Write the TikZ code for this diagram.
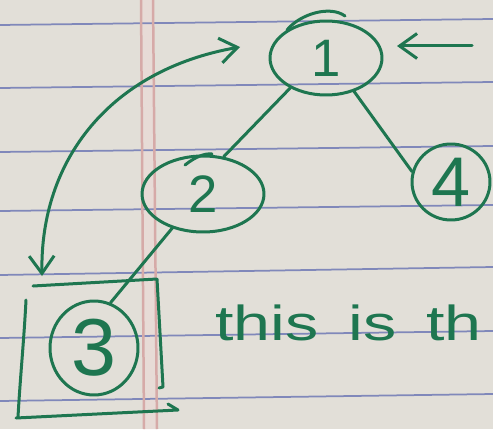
\documentclass[tikz,border=0pt]{standalone}
\usepackage{fontspec}
\setmainfont{Liberation Sans}
\usetikzlibrary{arrows.meta,shapes.geometric}
\definecolor{paper}{RGB}{226,223,216}
\definecolor{ruleblue}{RGB}{128,136,186}
\definecolor{marginpink}{RGB}{214,170,168}
\definecolor{marginband}{RGB}{231,219,214}
\definecolor{inkgreen}{RGB}{30,118,80}
\newcommand\notefont{\fontsize{28}{30}\selectfont\spaceskip 0.45em\relax}
\tikzset{
	pen/.style={draw=inkgreen, line width=0.6mm, line cap=round, line join=round},
	bubble/.style={pen, ellipse, inner sep=0pt, text=inkgreen},
	ruled/.style={draw=ruleblue, line width=0.35mm},
	marginline/.style={draw=marginpink, line width=0.5mm},
}

\begin{document}
\begin{tikzpicture}[x=0.02cm, y=-0.02cm, >={Straight Barb[length=3.5mm,width=5mm]}]
	%%%%% START %%%%%
	\useasboundingbox (0,0) rectangle (493,429);
	\clip (0,0) rectangle (493,429);
	
	% the sheet
	\fill[paper] (0,0) rectangle (493,429);
	\fill[marginband] (141,0) -- (153,0) -- (157,429) -- (144,429) -- cycle;
	\draw[ruled] (0,25) -- (493,19);
	\draw[ruled] (0,88) -- (493,82);
	\draw[ruled] (0,152) -- (493,146);
	\draw[ruled] (0,211) -- (493,205);
	\draw[ruled] (0,275) -- (493,267);
	\draw[ruled] (0,338) -- (493,331);
	\draw[ruled] (0,401) -- (493,394);
	\draw[marginline] (141,0) -- (144,429);
	\draw[marginline] (153,0) -- (157,429);
	
	% tree
	\node[bubble, minimum width=2.24cm, minimum height=1.48cm, font=\fontsize{30}{32}\selectfont] (n1) at (326,58) {1};
	\node[bubble, minimum width=2.44cm, minimum height=1.52cm, font=\fontsize{30}{32}\selectfont] (n2) at (203,194) {2};
	\node[bubble, minimum width=1.76cm, minimum height=1.88cm, font=\fontsize{46}{48}\selectfont] (n3) at (94,348) {3};
	\node[bubble, minimum width=1.56cm, minimum height=1.52cm, font=\fontsize{40}{42}\selectfont] (n4) at (451,182) {4};
	
	% pen overlaps on top of 1 and 2
	\draw[pen] (287,30) .. controls (300,14) and (330,5) .. (345,16);
	\draw[pen] (185,165) .. controls (195,157) and (205,153) .. (212,154);
	
	\draw[pen] (n1.220) -- (n2.61);
	\draw[pen] (n1.310) -- (n4.165);
	\draw[pen] (n2.228) -- (n3.70);
	
	\coordinate (feed) at (472,46);
	\coordinate (feedtip) at (397,46);
	\draw[pen, ->] (feed) -- (feedtip);
	
	\coordinate (loopbox) at (42,276);
	\coordinate (loopone) at (240,47);
	\draw[pen, <->] (loopbox) .. controls (40,160) and (110,70) .. (loopone);
	
	% box round 3
	\draw[pen] (33,286) -- (157,279) -- (163,387) -- (159,388);
	\draw[pen] (26,300) .. controls (24,340) and (20,380) .. (18,417);
	\draw[pen] (16,418) -- (178,410) -- (168,404);
	
	\node[text=inkgreen, anchor=base west, inner sep=0pt, xscale=1.35, font=\notefont] (note) at (215,340) {this is th};
	
	%%%%% END %%%%%
\end{tikzpicture}
\end{document}
